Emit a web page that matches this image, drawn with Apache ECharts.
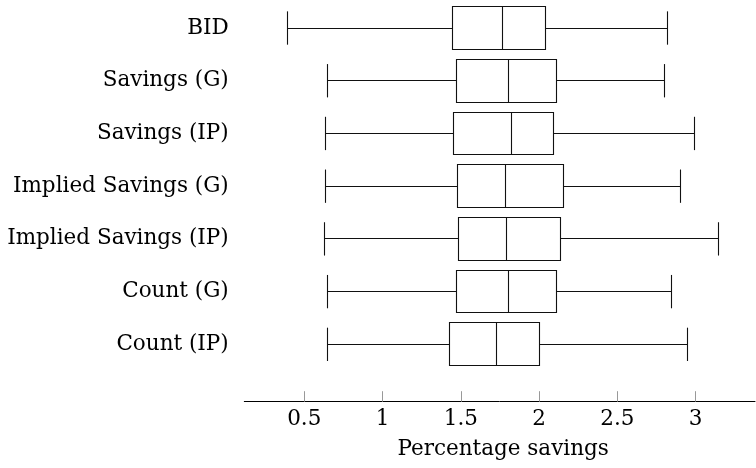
<!DOCTYPE html>
<html>
<head>
<meta charset="utf-8">
<script src="https://cdn.jsdelivr.net/npm/echarts@6/dist/echarts.min.js"></script>
<style>
html,body{margin:0;padding:0;background:#fff;}
#c{width:756px;height:468px;}
</style>
</head>
<body>
<div id="c"></div>
<script>
const categories = ['BID', 'Savings (G)', 'Savings (IP)', 'Implied Savings (G)', 'Implied Savings (IP)', 'Count (G)', 'Count (IP)'];
const whiskerLow  = [0.394, 0.647, 0.638, 0.638, 0.630, 0.647, 0.651];
const quart1      = [1.444, 1.470, 1.451, 1.481, 1.483, 1.470, 1.428];
const medians     = [1.764, 1.806, 1.823, 1.787, 1.794, 1.806, 1.725];
const quart3      = [2.044, 2.108, 2.092, 2.157, 2.136, 2.108, 2.002];
const whiskerHigh = [2.819, 2.804, 2.995, 2.900, 3.148, 2.848, 2.951];
const tickValues  = [0.5, 1, 1.5, 2, 2.5, 3];

const data = categories.map((c, i) => [i, whiskerLow[i], quart1[i], medians[i], quart3[i], whiskerHigh[i]]);

const FONT = 'DejaVu Serif';
const STROKE = '#111';

function snap(v) { return Math.round(v - 0.5) + 0.5; }

function renderItem(params, api) {
  const cat = api.value(0);
  const band = api.size([0, 1])[1];
  const cy = api.coord([api.value(3), cat])[1];
  const xs = [1, 2, 3, 4, 5].map(k => snap(api.coord([api.value(k), cat])[0]));
  const [xMin, xQ1, xMed, xQ3, xMax] = xs;
  const bh = band * 0.81;
  const ch = band * 0.632;
  const top = snap(cy - bh / 2), bot = snap(cy + bh / 2);
  const ymid = snap(cy);
  const style = { stroke: STROKE, lineWidth: 1.1, fill: null };
  return {
    type: 'group',
    children: [
      { type: 'rect', shape: { x: xQ1, y: top, width: xQ3 - xQ1, height: bot - top }, style: { stroke: STROKE, lineWidth: 1.1, fill: '#fff' } },
      { type: 'line', shape: { x1: xMed, y1: top, x2: xMed, y2: bot }, style },
      { type: 'line', shape: { x1: xMin, y1: ymid, x2: xQ1, y2: ymid }, style },
      { type: 'line', shape: { x1: xQ3, y1: ymid, x2: xMax, y2: ymid }, style },
      { type: 'line', shape: { x1: xMin, y1: cy - ch / 2, x2: xMin, y2: cy + ch / 2 }, style },
      { type: 'line', shape: { x1: xMax, y1: cy - ch / 2, x2: xMax, y2: cy + ch / 2 }, style }
    ]
  };
}

const chart = echarts.init(document.getElementById('c'), null, { renderer: 'canvas' });
chart.setOption({
  animation: false,
  backgroundColor: '#fff',
  grid: { left: 244.3, right: 1, top: 1.65, bottom: 97.3, containLabel: false },
  xAxis: {
    type: 'value',
    min: 0.117,
    max: 3.379,
    offset: 31,
    name: 'Percentage savings',
    nameLocation: 'middle',
    nameGap: 37,
    nameTextStyle: { fontFamily: FONT, fontSize: 21.5, color: '#000', padding: [0, 0, 0, 7] },
    axisLine: { show: true, onZero: false, lineStyle: { color: '#000', width: 1 } },
    axisTick: { show: true, inside: true, length: 10.5, customValues: tickValues, lineStyle: { color: '#999', width: 1 } },
    axisLabel: { customValues: tickValues, fontFamily: FONT, fontSize: 21.5, color: '#000', margin: 7 },
    splitLine: { show: false }
  },
  yAxis: {
    type: 'category',
    data: categories,
    inverse: true,
    axisLine: { show: false },
    axisTick: { show: false },
    splitLine: { show: false },
    axisLabel: { fontFamily: FONT, fontSize: 21.5, color: '#000', margin: 15.6 }
  },
  series: [{
    type: 'custom',
    renderItem: renderItem,
    encode: { x: [1, 2, 3, 4, 5], y: 0 },
    data: data
  }]
});
</script>
</body>
</html>
